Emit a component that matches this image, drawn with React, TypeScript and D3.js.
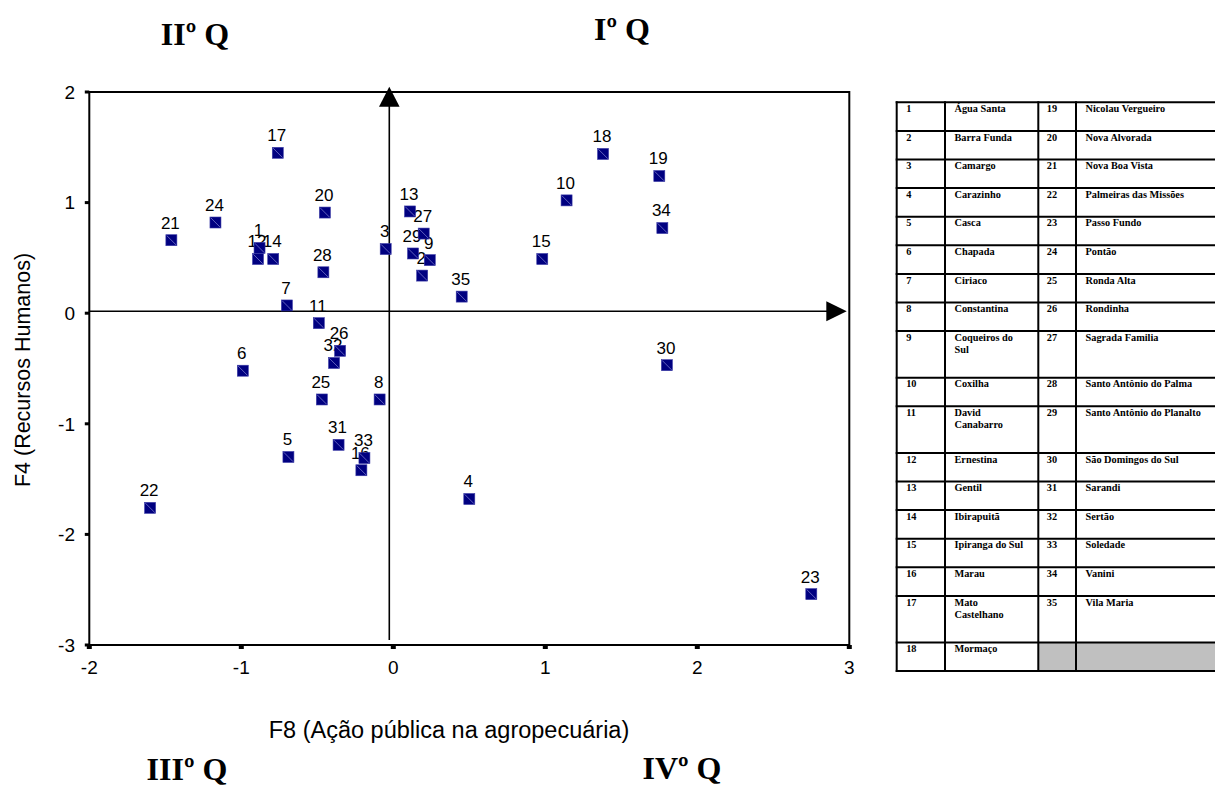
import React from "react";
import * as d3 from "d3";

// Municipality numbers, names and factor scores (F8 on x, F4 on y)
const municipalityIds = [
  1, 2, 3, 4, 5, 6, 7, 8, 9, 10, 11, 12, 13, 14, 15, 16, 17, 18,
  19, 20, 21, 22, 23, 24, 25, 26, 27, 28, 29, 30, 31, 32, 33, 34, 35,
];

const municipalityNames = [
  "Água Santa", "Barra Funda", "Camargo", "Carazinho", "Casca", "Chapada",
  "Ciriaco", "Constantina", "Coqueiros do Sul", "Coxilha", "David Canabarro",
  "Ernestina", "Gentil", "Ibirapuitã", "Ipiranga do Sul", "Marau",
  "Mato Castelhano", "Mormaço", "Nicolau Vergueiro", "Nova Alvorada",
  "Nova Boa Vista", "Palmeiras das Missões", "Passo Fundo", "Pontão",
  "Ronda Alta", "Rondinha", "Sagrada Familia", "Santo Antônio do Palma",
  "Santo Antônio do Planalto", "São Domingos do Sul", "Sarandi", "Sertão",
  "Soledade", "Vanini", "Vila Maria",
];

const f8Scores = [
  -0.88, 0.19, -0.05, 0.5, -0.69, -0.99, -0.7, -0.09, 0.24, 1.14, -0.49,
  -0.89, 0.11, -0.79, 0.98, -0.21, -0.76, 1.38, 1.75, -0.45, -1.46, -1.6,
  2.75, -1.17, -0.47, -0.35, 0.2, -0.46, 0.13, 1.8, -0.36, -0.39, -0.19,
  1.77, 0.45,
];

const f4Scores = [
  0.59, 0.34, 0.58, -1.68, -1.3, -0.52, 0.07, -0.78, 0.48, 1.02, -0.09,
  0.49, 0.92, 0.49, 0.49, -1.42, 1.45, 1.44, 1.24, 0.91, 0.66, -1.76,
  -2.54, 0.82, -0.78, -0.34, 0.72, 0.37, 0.54, -0.47, -1.19, -0.45, -1.31,
  0.77, 0.15,
];

const xTicks = [-2, -1, 0, 1, 2, 3];
const yTicks = [2, 1, 0, -1, -2, -3];

const xTitle = "F8 (Ação pública na agropecuária)";
const yTitle = "F4 (Recursos Humanos)";

const quadrantLabels = ["IIº Q", "Iº Q", "IIIº Q", "IVº Q"];

// ---- layout ----
const W = 1215;
const H = 787;
const SANS = "Arial, 'Liberation Sans', Helvetica, sans-serif";
const SERIF = "'Times New Roman', 'Liberation Serif', serif";

const x = d3.scaleLinear().domain([-2, 3]).range([89.3, 849.3]);
const y = d3.scaleLinear().domain([-3, 2]).range([645, 92]);

// caption anchor points, one per quadrant caption
const quadrantPos = [
  { cx: 195, base: 45 },
  { cx: 622, base: 40 },
  { cx: 187, base: 780 },
  { cx: 682, base: 779 },
];

const MARK = 11;
const NAVY = "#000080";

// table geometry
const TABLE_TOP = 102.3;
const TABLE_COLS = [896.7, 945, 1038.3, 1076, 1218];
const ROW_1LINE = 28.6;
const ROW_2LINE = 46.6;
const CELL_PAD = 9.5;
const TABLE_FONT = 10.3;
const TABLE_LINE = 12;

function wrapWords(text: string, maxWidth: number): string[] {
  const canvas = document.createElement("canvas");
  const ctx = canvas.getContext("2d");
  if (!ctx) return [text];
  ctx.font = `bold ${TABLE_FONT}px ${SERIF}`;
  const words = text.split(" ");
  const lines: string[] = [];
  let cur = "";
  for (const w of words) {
    const test = cur ? cur + " " + w : w;
    if (cur && ctx.measureText(test).width > maxWidth) {
      lines.push(cur);
      cur = w;
    } else {
      cur = test;
    }
  }
  if (cur) lines.push(cur);
  return lines;
}

export default function App() {
  const points = municipalityIds.map((id, i) => ({
    id,
    cx: x(f8Scores[i]),
    cy: y(f4Scores[i]),
  }));

  // table rows: left pair (1-18) and right pair (19-35)
  const half = 18;
  const nameWidthLeft = TABLE_COLS[2] - TABLE_COLS[1] - 2 * CELL_PAD;
  const nameWidthRight = TABLE_COLS[4] - TABLE_COLS[3] - 2 * CELL_PAD;
  const rows = d3.range(half).map((r) => {
    const li = r;
    const ri = r + half;
    const leftLines = wrapWords(municipalityNames[li], nameWidthLeft);
    const rightLines =
      ri < municipalityNames.length
        ? wrapWords(municipalityNames[ri], nameWidthRight)
        : [];
    const nLines = Math.max(leftLines.length, rightLines.length);
    return {
      leftId: municipalityIds[li],
      leftLines,
      rightId: ri < municipalityIds.length ? municipalityIds[ri] : null,
      rightLines,
      h: nLines > 1 ? ROW_2LINE : ROW_1LINE,
    };
  });
  const rowTops: number[] = [];
  let acc = TABLE_TOP;
  rows.forEach((r) => {
    rowTops.push(acc);
    acc += r.h;
  });
  const tableBottom = acc;

  const x0 = x(0);
  const y0 = y(0);
  const vAxisX = x0 - 4;
  const hAxisY = y0 - 2;

  return (
    <svg
      width={W}
      height={H}
      style={{ position: "absolute", left: 0, top: 0, background: "#fff" }}
    >
      <rect width={W} height={H} fill="#fff" />

      {/* quadrant captions */}
      {quadrantLabels.map((q, i) => (
        <text
          key={q}
          x={quadrantPos[i].cx}
          y={quadrantPos[i].base}
          textAnchor="middle"
          fontFamily={SERIF}
          fontWeight="bold"
          fontSize={32}
        >
          {q}
        </text>
      ))}

      {/* plot frame */}
      <rect
        x={x(-2)}
        y={y(2)}
        width={x(3) - x(-2)}
        height={y(-3) - y(2)}
        fill="none"
        stroke="#000"
        strokeWidth={2}
      />

      {/* y ticks */}
      {yTicks.map((t) => (
        <g key={"yt" + t}>
          <rect x={x(-2) - 4.5} y={y(t) - 1.5} width={4.5} height={3} fill="#000" />
          <text
            x={75}
            y={y(t)}
            dy="0.36em"
            textAnchor="end"
            fontFamily={SANS}
            fontSize={19}
          >
            {t}
          </text>
        </g>
      ))}

      {/* x ticks */}
      {xTicks.map((t) => (
        <g key={"xt" + t}>
          <rect x={x(t) - 2.5} y={y(-3)} width={5} height={4} fill="#000" />
          <text
            x={x(t)}
            y={674}
            textAnchor="middle"
            fontFamily={SANS}
            fontSize={19}
          >
            {t}
          </text>
        </g>
      ))}

      {/* quadrant axes with arrowheads */}
      <line x1={x(-2)} x2={x(3) - 20} y1={hAxisY} y2={hAxisY} stroke="#000" strokeWidth={1.6} />
      <path
        d={`M${x(3) - 2.6},${hAxisY} L${x(3) - 23},${hAxisY - 10} L${x(3) - 23},${hAxisY + 10} Z`}
        fill="#000"
      />
      <line x1={vAxisX} x2={vAxisX} y1={y(-3) - 5} y2={y(2) + 12} stroke="#000" strokeWidth={1.6} />
      <path
        d={`M${vAxisX},${y(2) - 5.3} L${vAxisX - 10.3},${y(2) + 14.7} L${vAxisX + 10.3},${y(2) + 14.7} Z`}
        fill="#000"
      />

      {/* point labels */}
      {points.map((p) => (
        <text
          key={"lb" + p.id}
          x={p.cx - 1}
          y={p.cy - 11.6}
          textAnchor="middle"
          fontFamily={SANS}
          fontSize={17}
          fill="#000"
        >
          {p.id}
        </text>
      ))}

      {/* markers */}
      {points.map((p) => (
        <g key={"mk" + p.id}>
          <rect
            x={p.cx - MARK / 2}
            y={p.cy - MARK / 2}
            width={MARK}
            height={MARK}
            fill={NAVY}
            stroke="#3b3ba6"
            strokeWidth={0.6}
          />
          <line
            x1={p.cx - MARK / 2 + 0.8}
            y1={p.cy - MARK / 2 + 0.8}
            x2={p.cx + MARK / 2 - 0.8}
            y2={p.cy + MARK / 2 - 0.8}
            stroke="#8a8ad6"
            strokeWidth={0.7}
          />
        </g>
      ))}

      {/* axis titles */}
      <text
        x={449}
        y={738}
        textAnchor="middle"
        fontFamily={SANS}
        fontSize={23.5}
      >
        {xTitle}
      </text>
      <text
        transform={`translate(30,370) rotate(-90)`}
        textAnchor="middle"
        fontFamily={SANS}
        fontSize={21.5}
      >
        {yTitle}
      </text>

      {/* legend table */}
      <g>
        {rows.map((r, i) =>
          r.rightId === null ? (
            <rect
              key={"grey" + i}
              x={TABLE_COLS[2]}
              y={rowTops[i]}
              width={TABLE_COLS[4] - TABLE_COLS[2]}
              height={r.h}
              fill="#c0c0c0"
            />
          ) : null
        )}
        {rows.map((r, i) => {
          const base = rowTops[i] + 9.7;
          return (
            <g
              key={"row" + i}
              fontFamily={SERIF}
              fontWeight="bold"
              fontSize={TABLE_FONT}
              fill="#000"
            >
              <text x={TABLE_COLS[0] + CELL_PAD} y={base}>
                {r.leftId}
              </text>
              {r.leftLines.map((l, k) => (
                <text key={k} x={TABLE_COLS[1] + CELL_PAD} y={base + k * TABLE_LINE}>
                  {l}
                </text>
              ))}
              {r.rightId !== null && (
                <text x={TABLE_COLS[2] + CELL_PAD - 1} y={base}>
                  {r.rightId}
                </text>
              )}
              {r.rightLines.map((l, k) => (
                <text key={k} x={TABLE_COLS[3] + CELL_PAD} y={base + k * TABLE_LINE}>
                  {l}
                </text>
              ))}
            </g>
          );
        })}
        {[...rowTops, tableBottom].map((ty, i) => (
          <line
            key={"hl" + i}
            x1={TABLE_COLS[0] - 1}
            x2={TABLE_COLS[4]}
            y1={ty}
            y2={ty}
            stroke="#000"
            strokeWidth={2}
          />
        ))}
        {TABLE_COLS.map((cx, i) => (
          <line
            key={"vl" + i}
            x1={cx}
            x2={cx}
            y1={TABLE_TOP - 1}
            y2={tableBottom + 1}
            stroke="#000"
            strokeWidth={2}
          />
        ))}
      </g>
    </svg>
  );
}
